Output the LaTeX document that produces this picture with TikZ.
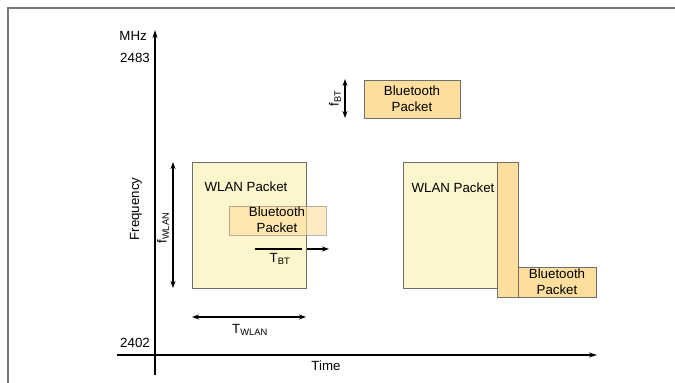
\documentclass[tikz,border=0pt]{standalone}
\usepackage{fontspec}
\setmainfont{Liberation Sans}
\usetikzlibrary{arrows.meta}
\definecolor{wlanfill}{RGB}{253,246,204}
\definecolor{btfill}{RGB}{253,222,156}
\definecolor{edgegray}{RGB}{110,110,110}
\definecolor{framegray}{RGB}{120,120,120}
\begin{document}
\begin{tikzpicture}[x=1pt,y=-1pt,
  lbl/.style={font=\fontsize{13.3}{16}\selectfont, inner sep=0pt},
  ax/.style={line width=1.8pt, -{Stealth[length=8pt,width=5pt]}},
  dim/.style={line width=1.6pt, {Stealth[length=7pt,width=5pt]}-{Stealth[length=7pt,width=5pt]}},
  wlanbox/.style={draw=edgegray, line width=0.8pt, fill=wlanfill},
  btbox/.style={draw=edgegray, line width=0.8pt, fill=btfill},
  btlabel/.style={lbl, align=center}]
\useasboundingbox (0,0) rectangle (675,383);
% frame
\draw[framegray, line width=1.5pt] (8,383) -- (8,8) -- (675,8);
% axes
\coordinate (yb) at (155,375);
\coordinate (yt) at (155,30);
\coordinate (xl) at (117,355);
\coordinate (xr) at (597,355);
\draw[ax] (yb) -- (yt);
\draw[ax] (xl) -- (xr);
\node[lbl, anchor=east] (mhz) at (147,36) {MHz};
\node[lbl, anchor=east] (f2483) at (150,58) {2483};
\node[lbl, anchor=east] (f2402) at (150,343) {2402};
\node[lbl] (time) at (326,366) {Time};
\node[lbl, rotate=90] (freq) at (136,209) {Frequency};
% left WLAN packet
\node[wlanbox, minimum width=114pt, minimum height=126pt, inner sep=0pt, anchor=north west] (w1) at (192,162) {};
\node[lbl] (w1t) at (246,187) {WLAN Packet};
\node[btbox, fill opacity=0.6, minimum width=97pt, minimum height=29pt, inner sep=0pt, anchor=north west, draw opacity=0.5] (b1) at (229,206) {};
\node[btlabel] (b1t) at (277,220) {Bluetooth\\Packet};
% T_BT
\coordinate (tb1) at (255,249);
\coordinate (tb2) at (302,249);
\coordinate (tb3) at (307,249);
\coordinate (tb4) at (329,249);
\draw[line width=1.6pt] (tb1) -- (tb2);
\draw[line width=1.6pt, -{Stealth[length=7pt,width=5pt]}] (tb3) -- (tb4);
\node[lbl] (tbt) at (280,259) {T\textsubscript{BT}};
% f_WLAN
\coordinate (fw1) at (173,162);
\coordinate (fw2) at (173,288);
\draw[dim] (fw1) -- (fw2);
\node[lbl, rotate=90] (fwl) at (163,228) {f\textsubscript{WLAN}};
% T_WLAN
\coordinate (tw1) at (192,317);
\coordinate (tw2) at (306,317);
\draw[dim] (tw1) -- (tw2);
\node[lbl] (twl) at (250,330) {T\textsubscript{WLAN}};
% top BT
\node[btbox, minimum width=96pt, minimum height=38pt, inner sep=0pt, anchor=north west] (b0) at (364,80) {};
\node[btlabel] (b0t) at (412,99) {Bluetooth\\Packet};
\coordinate (fb1) at (345,79);
\coordinate (fb2) at (345,118);
\draw[dim] (fb1) -- (fb2);
\node[lbl, rotate=90] (fbl) at (335,98) {f\textsubscript{BT}};
% right WLAN packet
\node[wlanbox, minimum width=94pt, minimum height=126pt, inner sep=0pt, anchor=north west] (w2) at (403,162) {};
\node[lbl] (w2t) at (453,188) {WLAN Packet};
\node[btbox, minimum width=21pt, minimum height=135pt, inner sep=0pt, anchor=north west] (strip) at (497,162) {};
\node[btbox, minimum width=78pt, minimum height=30pt, inner sep=0pt, anchor=north west] (b2) at (518,267) {};
\node[btlabel] (b2t) at (557,282) {Bluetooth\\Packet};
\end{tikzpicture}
\end{document}
